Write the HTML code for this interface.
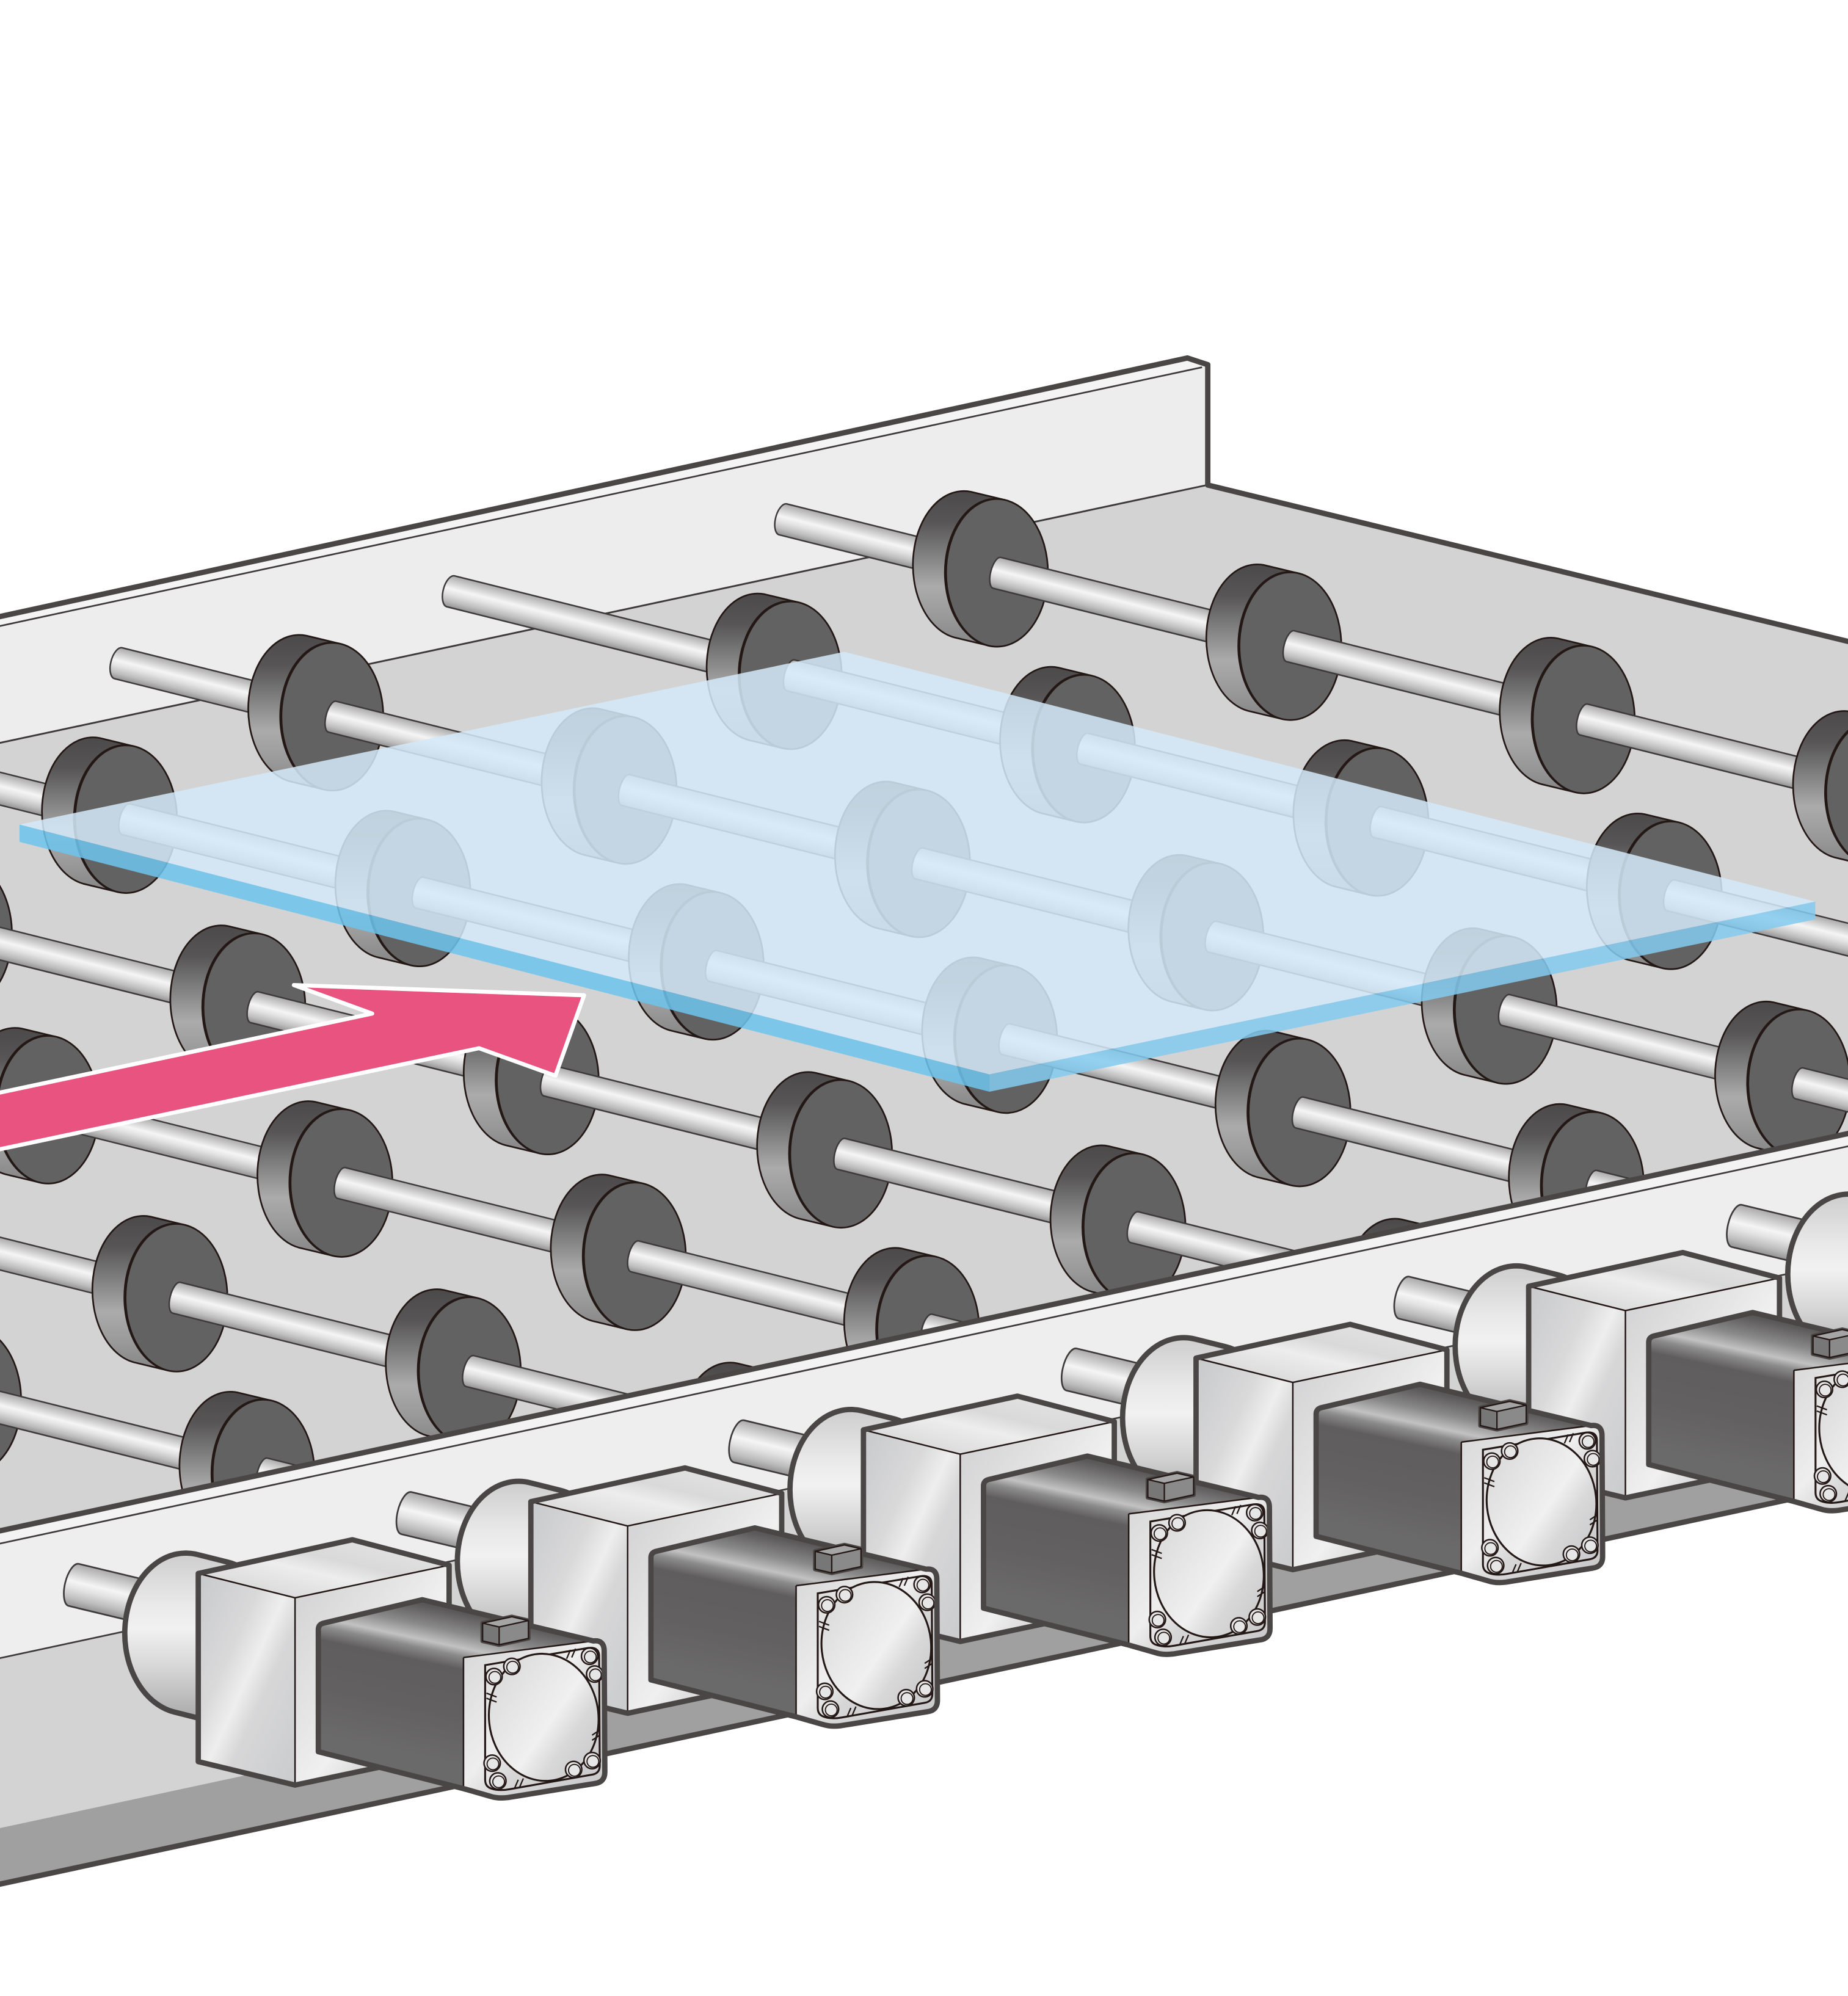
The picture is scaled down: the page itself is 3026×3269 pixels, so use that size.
<!DOCTYPE html>
<html>
<head>
<meta charset="utf-8">
<style>
html,body{margin:0;padding:0;background:#ffffff;}
svg{display:block;}
</style>
</head>
<body>
<svg xmlns="http://www.w3.org/2000/svg" xmlns:xlink="http://www.w3.org/1999/xlink" width="3026" height="3269" viewBox="0 0 1451.3 1567.9" preserveAspectRatio="none">
<defs>
  <linearGradient id="shaftG" x1="0" y1="0" x2="0" y2="1">
    <stop offset="0" stop-color="#a9a9a9"/>
    <stop offset=".2" stop-color="#cdcdcd"/>
    <stop offset=".42" stop-color="#f5f5f5"/>
    <stop offset=".58" stop-color="#e3e3e3"/>
    <stop offset=".82" stop-color="#bcbcbc"/>
    <stop offset="1" stop-color="#929292"/>
  </linearGradient>
  <linearGradient id="rimG" x1="0" y1="0" x2="0" y2="1">
    <stop offset="0" stop-color="#4b4949"/>
    <stop offset=".2" stop-color="#575555"/>
    <stop offset=".45" stop-color="#888888"/>
    <stop offset=".62" stop-color="#ababab"/>
    <stop offset=".82" stop-color="#999999"/>
    <stop offset="1" stop-color="#858585"/>
  </linearGradient>
  <linearGradient id="cubeFront" x1="0" y1="0" x2="1" y2="1">
    <stop offset="0" stop-color="#c8c9cb"/>
    <stop offset=".35" stop-color="#d9d9da"/>
    <stop offset=".5" stop-color="#eeeeee"/>
    <stop offset=".62" stop-color="#d7d7d8"/>
    <stop offset="1" stop-color="#cacbcd"/>
  </linearGradient>
  <linearGradient id="cubeTop" x1="0" y1="1" x2="1" y2="0">
    <stop offset="0" stop-color="#cfcfd0"/>
    <stop offset=".45" stop-color="#ededed"/>
    <stop offset=".6" stop-color="#d9d9da"/>
    <stop offset="1" stop-color="#e8e8e8"/>
  </linearGradient>
  <linearGradient id="cubeRight" x1="0" y1="0" x2="1" y2="1">
    <stop offset="0" stop-color="#d0d0d2"/>
    <stop offset=".4" stop-color="#e6e6e6"/>
    <stop offset=".55" stop-color="#f0f0f0"/>
    <stop offset=".7" stop-color="#d8d8d9"/>
    <stop offset="1" stop-color="#cdcdcf"/>
  </linearGradient>
  <linearGradient id="flangeG" x1="0" y1="0" x2="0" y2="1">
    <stop offset="0" stop-color="#cdcdcd"/>
    <stop offset=".3" stop-color="#e9e9e9"/>
    <stop offset=".45" stop-color="#f1f1f1"/>
    <stop offset=".7" stop-color="#d4d4d4"/>
    <stop offset="1" stop-color="#a7a7a7"/>
  </linearGradient>
  <linearGradient id="faceG" x1="0" y1="0" x2="1" y2="1">
    <stop offset="0" stop-color="#d7d7d8"/>
    <stop offset=".45" stop-color="#eeeeee"/>
    <stop offset=".6" stop-color="#d6d6d7"/>
    <stop offset="1" stop-color="#c8c8ca"/>
  </linearGradient>
  <linearGradient id="discG" x1="0" y1="0" x2="1" y2="1">
    <stop offset="0" stop-color="#d5d5d6"/>
    <stop offset=".4" stop-color="#e9e9e9"/>
    <stop offset=".55" stop-color="#f0f0f0"/>
    <stop offset=".7" stop-color="#d8d8d9"/>
    <stop offset="1" stop-color="#c4c4c6"/>
  </linearGradient>
  <linearGradient id="bodyG" gradientUnits="userSpaceOnUse" x1="331.6" y1="1250" x2="305" y2="1375">
    <stop offset="0" stop-color="#4f4d4d"/>
    <stop offset=".08" stop-color="#5a5858"/>
    <stop offset=".2" stop-color="#8a8989"/>
    <stop offset=".29" stop-color="#c2c2c2"/>
    <stop offset=".34" stop-color="#8c8b8b"/>
    <stop offset=".42" stop-color="#5f5d5d"/>
    <stop offset=".7" stop-color="#626060"/>
    <stop offset="1" stop-color="#6b6a6a"/>
  </linearGradient>

  <path id="seg" d="M0,-12.5H238V12.5H0A5,12.5 0 0 1 0,-12.5Z" fill="url(#shaftG)" stroke="#3e3a3a" stroke-width="1.2"/>
  <path id="lead0" d="M0,-12.5H174V12.5H0A6,12.5 0 0 1 0,-12.5Z" fill="url(#shaftG)" stroke="#3e3a3a" stroke-width="1.2"/>
  <path id="lead1" d="M0,-12.5H276V12.5H0A6,12.5 0 0 1 0,-12.5Z" fill="url(#shaftG)" stroke="#3e3a3a" stroke-width="1.2"/>

  <g id="wh">
    <path d="M6.55,-57.2L-20.45,-63.7A40,58 0 0 0 -33.55,50.7L-6.55,57.2A40,58 0 1 1 6.55,-57.2Z" fill="url(#rimG)" stroke="#231815" stroke-width="1.3" stroke-linejoin="round"/>
    <ellipse cx="0" cy="0" rx="40" ry="58" fill="#626262" stroke="#231815" stroke-width="1.3"/>
  </g>

  <g id="bolt">
    <circle cx="0" cy="0" r="6.4" fill="#e6e6e6" stroke="#231815" stroke-width="1.2"/>
    <circle cx="0.6" cy="0.6" r="4.6" fill="none" stroke="#231815" stroke-width="0.9"/>
  </g>

  <g id="motor">
    <g transform="translate(58,1245) rotate(13.5)">
      <path d="M0,-17H100V17H0A7,17 0 0 1 0,-17Z" fill="url(#shaftG)" stroke="#3e3a3a" stroke-width="1.3"/>
    </g>
    <path d="M155,1221.1A48,63 0 0 0 137,1344.9L161,1350.9A48,63 0 0 0 179,1227.1Z" fill="url(#flangeG)" stroke="#4a4646" stroke-width="4.2" stroke-linejoin="round"/>
    <polygon points="155.7,1236 231.7,1255.1 231.7,1402.2 155.7,1383.8" fill="url(#cubeFront)"/>
    <polygon points="155.7,1236 276.7,1209.5 352.7,1229.5 231.7,1255.1" fill="url(#cubeTop)"/>
    <polygon points="231.7,1255.1 352.7,1229.5 352.7,1376.6 231.7,1402.2" fill="url(#cubeRight)"/>
    <path d="M155.7,1236L231.7,1255.1L352.7,1229.5M231.7,1255.1V1402.2" fill="none" stroke="#231815" stroke-width="1.2"/>
    <polygon points="155.7,1236 276.7,1209.5 352.7,1229.5 352.7,1376.6 231.7,1402.2 155.7,1383.8" fill="none" stroke="#4a4646" stroke-width="4.2" stroke-linejoin="round"/>
    <polygon points="250,1376 250,1276 331.6,1256.6 466,1289 466,1380 364,1405" fill="url(#bodyG)"/>
    <path d="M364,1302L466,1289Q474.5,1288 474.5,1297L475,1392Q475,1400 467,1401L399,1412Q391,1413 385,1411L364,1405Z" fill="url(#faceG)"/>
    <path d="M364,1302L466,1289M364,1302V1405" fill="none" stroke="#231815" stroke-width="1.2"/>
    <path d="M381,1308L462,1294.5Q470,1293.5 470.5,1300L471,1387Q471,1393 465,1394L400,1405.5Q392,1407 386,1405Q381,1403.5 381,1398Z" fill="none" stroke="#231815" stroke-width="1.5"/>
    <ellipse cx="427" cy="1349" rx="43" ry="50" transform="rotate(-6 427 1349)" fill="url(#discG)" stroke="#231815" stroke-width="1.5"/>
    <use href="#bolt" transform="translate(388,1317)"/>
    <use href="#bolt" transform="translate(402,1309)"/>
    <use href="#bolt" transform="translate(463,1301)"/>
    <use href="#bolt" transform="translate(467,1315)"/>
    <use href="#bolt" transform="translate(386.5,1385)"/>
    <use href="#bolt" transform="translate(391,1399)"/>
    <use href="#bolt" transform="translate(450.5,1390)"/>
    <use href="#bolt" transform="translate(465,1383)"/>
    <path d="M382,1330l8,3M382,1334l8,3M445,1303l3,-7M449,1302l3,-7M465,1363l6,-4M465,1367l6,-4M404,1405l3,-7M408,1404l3,-7" stroke="#231815" stroke-width="1.1" fill="none"/>
    <path d="M250,1376L250,1280Q250,1276 254,1275L331.6,1256.6L466,1289Q474.5,1288 474.5,1297L475,1392Q475,1400 467,1401L399,1412Q391,1413 385,1411L364,1405Z" fill="none" stroke="#4a4646" stroke-width="4.2" stroke-linejoin="round"/>
    <polygon points="379,1275 402,1270 415,1273 415,1287 392,1292 379,1289" fill="none" stroke="#4a4646" stroke-width="3.4" stroke-linejoin="round"/>
    <polygon points="379,1275 392,1278 392,1292 379,1289" fill="#777777"/>
    <polygon points="379,1275 402,1270 415,1273 392,1278" fill="#a5a5a5"/>
    <polygon points="392,1278 415,1273 415,1287 392,1292" fill="#8a8a8a"/>
    <path d="M379,1275L402,1270L415,1273L415,1287L392,1292L379,1289Z M379,1275L392,1278L415,1273 M392,1278V1292" fill="none" stroke="#231815" stroke-width="1.1" stroke-linejoin="round"/>
  </g>

  <clipPath id="rollerClip">
    <polygon points="-50,-50 1500,-50 1500,880 -50,1213.3"/>
  </clipPath>
</defs>

<rect x="0" y="0" width="1451.3" height="1567.9" fill="#ffffff"/>

<polygon points="-5,485.4 932.8,281.2 948,286.5 948,381 -5,584.6" fill="#ededed"/>
<polygon points="-5,485.4 932.8,281.2 944,288.5 -5,492.8" fill="#f4f4f4"/>
<polygon points="-5,584.6 948,381 1460,506 1460,888.6 -5,1203.6" fill="#d3d3d3"/>
<path d="M948,381L-5,584.6" stroke="#3e3a3a" stroke-width="1.4" fill="none"/>
<path d="M-5,492.8L944,288.5" stroke="#3e3a3a" stroke-width="1.3" fill="none"/>
<path d="M-5,485.4L932.5,281.2L948.5,286.5L948.5,381L1460,506" stroke="#4a4646" stroke-width="4.2" fill="none" stroke-linejoin="round"/>

<g clip-path="url(#rollerClip)">
  <use href="#lead0" transform="translate(615,408) rotate(14.036)"/>
  <use href="#wh" transform="translate(783,450)"/>
  <use href="#seg" transform="translate(783,450) rotate(14.036)"/>
  <use href="#wh" transform="translate(1013.4,507.6)"/>
  <use href="#seg" transform="translate(1013.4,507.6) rotate(14.036)"/>
  <use href="#wh" transform="translate(1243.8,565.2)"/>
  <use href="#seg" transform="translate(1243.8,565.2) rotate(14.036)"/>
  <use href="#wh" transform="translate(1474.2,622.8)"/>
  <use href="#seg" transform="translate(1474.2,622.8) rotate(14.036)"/>

  <use href="#lead1" transform="translate(354,464.5) rotate(14.036)"/>
  <use href="#wh" transform="translate(621,530.5)"/>
  <use href="#seg" transform="translate(621,530.5) rotate(14.036)"/>
  <use href="#wh" transform="translate(851.4,588.1)"/>
  <use href="#seg" transform="translate(851.4,588.1) rotate(14.036)"/>
  <use href="#wh" transform="translate(1081.8,645.7)"/>
  <use href="#seg" transform="translate(1081.8,645.7) rotate(14.036)"/>
  <use href="#wh" transform="translate(1312.2,703.3)"/>
  <use href="#seg" transform="translate(1312.2,703.3) rotate(14.036)"/>

  <use href="#lead0" transform="translate(93,521) rotate(14.036)"/>
  <use href="#wh" transform="translate(261,563)"/>
  <use href="#seg" transform="translate(261,563) rotate(14.036)"/>
  <use href="#wh" transform="translate(491.4,620.6)"/>
  <use href="#seg" transform="translate(491.4,620.6) rotate(14.036)"/>
  <use href="#wh" transform="translate(721.8,678.2)"/>
  <use href="#seg" transform="translate(721.8,678.2) rotate(14.036)"/>
  <use href="#wh" transform="translate(952.2,735.8)"/>
  <use href="#seg" transform="translate(952.2,735.8) rotate(14.036)"/>
  <use href="#wh" transform="translate(1182.6,793.4)"/>
  <use href="#seg" transform="translate(1182.6,793.4) rotate(14.036)"/>
  <use href="#wh" transform="translate(1413,851)"/>
  <use href="#seg" transform="translate(1413,851) rotate(14.036)"/>

  <use href="#lead1" transform="translate(-168,577.5) rotate(14.036)"/>
  <use href="#wh" transform="translate(99,643.5)"/>
  <use href="#seg" transform="translate(99,643.5) rotate(14.036)"/>
  <use href="#wh" transform="translate(329.4,701.1)"/>
  <use href="#seg" transform="translate(329.4,701.1) rotate(14.036)"/>
  <use href="#wh" transform="translate(559.8,758.7)"/>
  <use href="#seg" transform="translate(559.8,758.7) rotate(14.036)"/>
  <use href="#wh" transform="translate(790.2,816.3)"/>
  <use href="#seg" transform="translate(790.2,816.3) rotate(14.036)"/>
  <use href="#wh" transform="translate(1020.6,873.9)"/>
  <use href="#seg" transform="translate(1020.6,873.9) rotate(14.036)"/>
  <use href="#wh" transform="translate(1251,931.5)"/>
  <use href="#seg" transform="translate(1251,931.5) rotate(14.036)"/>
  <use href="#wh" transform="translate(1481.4,989.1)"/>
  <use href="#seg" transform="translate(1481.4,989.1) rotate(14.036)"/>

  <use href="#seg" transform="translate(-261,676) rotate(14.036)"/>
  <use href="#wh" transform="translate(-30.6,733.6)"/>
  <use href="#seg" transform="translate(-30.6,733.6) rotate(14.036)"/>
  <use href="#wh" transform="translate(199.8,791.2)"/>
  <use href="#seg" transform="translate(199.8,791.2) rotate(14.036)"/>
  <use href="#wh" transform="translate(430.2,848.8)"/>
  <use href="#seg" transform="translate(430.2,848.8) rotate(14.036)"/>
  <use href="#wh" transform="translate(660.6,906.4)"/>
  <use href="#seg" transform="translate(660.6,906.4) rotate(14.036)"/>
  <use href="#wh" transform="translate(891,964)"/>
  <use href="#seg" transform="translate(891,964) rotate(14.036)"/>
  <use href="#wh" transform="translate(1121.4,1021.6)"/>
  <use href="#seg" transform="translate(1121.4,1021.6) rotate(14.036)"/>

  <use href="#seg" transform="translate(-192.6,814.1) rotate(14.036)"/>
  <use href="#wh" transform="translate(37.8,871.7)"/>
  <use href="#seg" transform="translate(37.8,871.7) rotate(14.036)"/>
  <use href="#wh" transform="translate(268.2,929.3)"/>
  <use href="#seg" transform="translate(268.2,929.3) rotate(14.036)"/>
  <use href="#wh" transform="translate(498.6,986.9)"/>
  <use href="#seg" transform="translate(498.6,986.9) rotate(14.036)"/>
  <use href="#wh" transform="translate(729,1044.5)"/>
  <use href="#seg" transform="translate(729,1044.5) rotate(14.036)"/>
  <use href="#wh" transform="translate(959.4,1102.1)"/>
  <use href="#seg" transform="translate(959.4,1102.1) rotate(14.036)"/>

  <use href="#seg" transform="translate(-91.8,961.8) rotate(14.036)"/>
  <use href="#wh" transform="translate(138.6,1019.4)"/>
  <use href="#seg" transform="translate(138.6,1019.4) rotate(14.036)"/>
  <use href="#wh" transform="translate(369,1077)"/>
  <use href="#seg" transform="translate(369,1077) rotate(14.036)"/>
  <use href="#wh" transform="translate(599.4,1134.6)"/>
  <use href="#seg" transform="translate(599.4,1134.6) rotate(14.036)"/>

  <use href="#seg" transform="translate(-253.8,1042.3) rotate(14.036)"/>
  <use href="#wh" transform="translate(-23.4,1099.9)"/>
  <use href="#seg" transform="translate(-23.4,1099.9) rotate(14.036)"/>
  <use href="#wh" transform="translate(207,1157.5)"/>
  <use href="#seg" transform="translate(207,1157.5) rotate(14.036)"/>
  <use href="#wh" transform="translate(437.4,1215.1)"/>
  <use href="#seg" transform="translate(437.4,1215.1) rotate(14.036)"/>
</g>

<polygon points="15.3,647.7 663,512 1425.6,708.2 777,844" fill="#d4e9f8" fill-opacity="0.86"/>
<polygon points="15.3,647.7 777,844 777,857.6 15.3,661.3" fill="#6dc4ee" fill-opacity="0.86"/>
<polygon points="777,844 1425.6,708.2 1425.6,722.2 777,857.6" fill="#83cbf0" fill-opacity="0.86"/>

<polygon points="-6,859.5 292.3,796.2 230.8,773.8 458.7,781.8 436.2,845 376.2,823.4 -6,904" fill="#e8537f" stroke="#ffffff" stroke-width="3.2" stroke-linejoin="round"/>

<polygon points="-20,1436 1471,1115.4 1471,1163.7 -20,1484.3" fill="#a0a0a0"/>
<polygon points="-20,1306.8 1471,986.2 1471,1119.7 -20,1440.3" fill="#d3d3d3"/>
<polygon points="-20,1216.8 1471,896.2 1471,986.2 -20,1306.8" fill="#eeeeee"/>
<polygon points="-20,1206.8 1471,886.2 1471,896.2 -20,1216.8" fill="#f3f3f3"/>
<path d="M-20,1216.8L1471,896.2" stroke="#3e3a3a" stroke-width="1.3" fill="none"/>
<path d="M-20,1306.8L1471,986.2" stroke="#3e3a3a" stroke-width="1.3" fill="none"/>
<path d="M-20,1206.8L1471,886.2" stroke="#4a4646" stroke-width="4.2" fill="none"/>
<path d="M-20,1484.3L1471,1163.7" stroke="#4a4646" stroke-width="4.2" fill="none"/>

<use href="#motor" transform="translate(1306,-282)"/>
<use href="#motor" transform="translate(1044.8,-225.6)"/>
<use href="#motor" transform="translate(783.6,-169.2)"/>
<use href="#motor" transform="translate(522.4,-112.8)"/>
<use href="#motor" transform="translate(261.2,-56.4)"/>
<use href="#motor"/>
</svg>
</body>
</html>
